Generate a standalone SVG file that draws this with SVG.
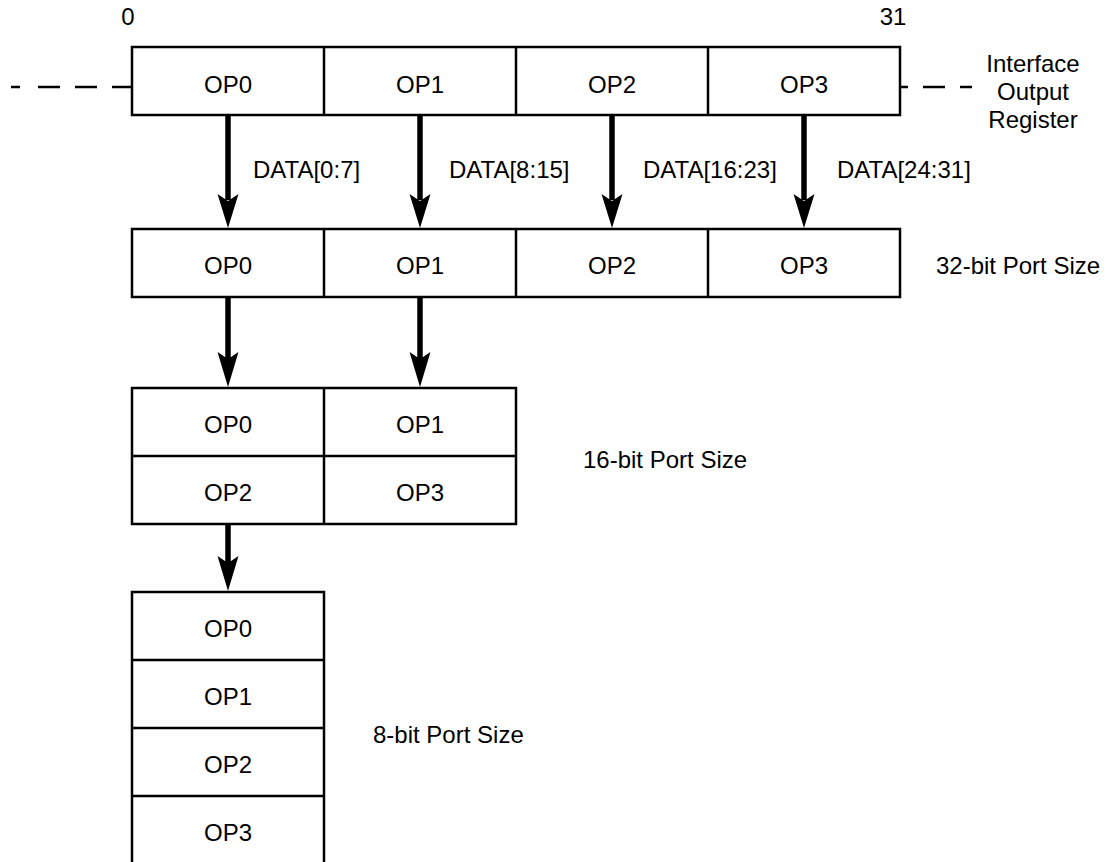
<svg xmlns="http://www.w3.org/2000/svg" width="1114" height="862" viewBox="0 0 1114 862">
<style>
.box{fill:#fff;stroke:#000;stroke-width:2.5}
.div{stroke:#000;stroke-width:2.5;fill:none}
.dash{stroke:#000;stroke-width:2.5;fill:none}
.conn{stroke:#000;stroke-width:5.5;fill:none}
.head{fill:#000;stroke:none}
text{font-family:"Liberation Sans",Arial,Helvetica,sans-serif;font-size:24px;fill:#000}
.c{text-anchor:middle}
</style>
<rect width="1114" height="862" fill="#fff"/>

<g id="bit-labels">
<text class="c" x="128" y="25">0</text>
<text class="c" x="893" y="25">31</text>
</g>

<g id="interface-register">
<rect class="box" x="132" y="47" width="768" height="68"/>
<path class="div" d="M324 47V115M516 47V115M708 47V115"/>
<text class="c" x="228" y="93">OP0</text>
<text class="c" x="420" y="93">OP1</text>
<text class="c" x="612" y="93">OP2</text>
<text class="c" x="804" y="93">OP3</text>
<path class="dash" d="M11 87H20M38 87H60M75 87H97M112 87H132"/>
<path class="dash" d="M900 87H908M923 87H945M960 87H972"/>
</g>

<g id="interface-label">
<text class="c" x="1033" y="72">Interface</text>
<text class="c" x="1033" y="100">Output</text>
<text class="c" x="1033" y="128">Register</text>
</g>

<g id="port32">
<rect class="box" x="132" y="229" width="768" height="68"/>
<path class="div" d="M324 229V297M516 229V297M708 229V297"/>
<text class="c" x="228" y="274">OP0</text>
<text class="c" x="420" y="274">OP1</text>
<text class="c" x="612" y="274">OP2</text>
<text class="c" x="804" y="274">OP3</text>
<text x="936" y="274">32-bit Port Size</text>
</g>

<g id="port16">
<rect class="box" x="132" y="388" width="384" height="136"/>
<path class="div" d="M324 388V524M132 456H516"/>
<text class="c" x="228" y="433">OP0</text>
<text class="c" x="420" y="433">OP1</text>
<text class="c" x="228" y="501">OP2</text>
<text class="c" x="420" y="501">OP3</text>
<text x="583" y="468">16-bit Port Size</text>
</g>

<g id="port8">
<rect class="box" x="132" y="592" width="192" height="274"/>
<path class="div" d="M132 660H324M132 728H324M132 796H324"/>
<text class="c" x="228" y="637">OP0</text>
<text class="c" x="228" y="705">OP1</text>
<text class="c" x="228" y="773">OP2</text>
<text class="c" x="228" y="841">OP3</text>
<text x="373" y="743">8-bit Port Size</text>
</g>

<g id="connectors">
<path class="conn" d="M228 115V200M420 115V200M612 115V200M804 115V200"/>
<path class="head" d="M228 228L217.5 194L228 201L238.5 194Z"/>
<path class="head" d="M420 228L409.5 194L420 201L430.5 194Z"/>
<path class="head" d="M612 228L601.5 194L612 201L622.5 194Z"/>
<path class="head" d="M804 228L793.5 194L804 201L814.5 194Z"/>
<path class="conn" d="M228 297V359M420 297V359"/>
<path class="head" d="M228 387L217.5 352L228 359L238.5 352Z"/>
<path class="head" d="M420 387L409.5 352L420 359L430.5 352Z"/>
<path class="conn" d="M228 524V563"/>
<path class="head" d="M228 591L217.5 556L228 563L238.5 556Z"/>
<text x="253" y="178">DATA[0:7]</text>
<text x="449" y="178">DATA[8:15]</text>
<text x="643" y="178">DATA[16:23]</text>
<text x="837" y="178">DATA[24:31]</text>
</g>
</svg>
